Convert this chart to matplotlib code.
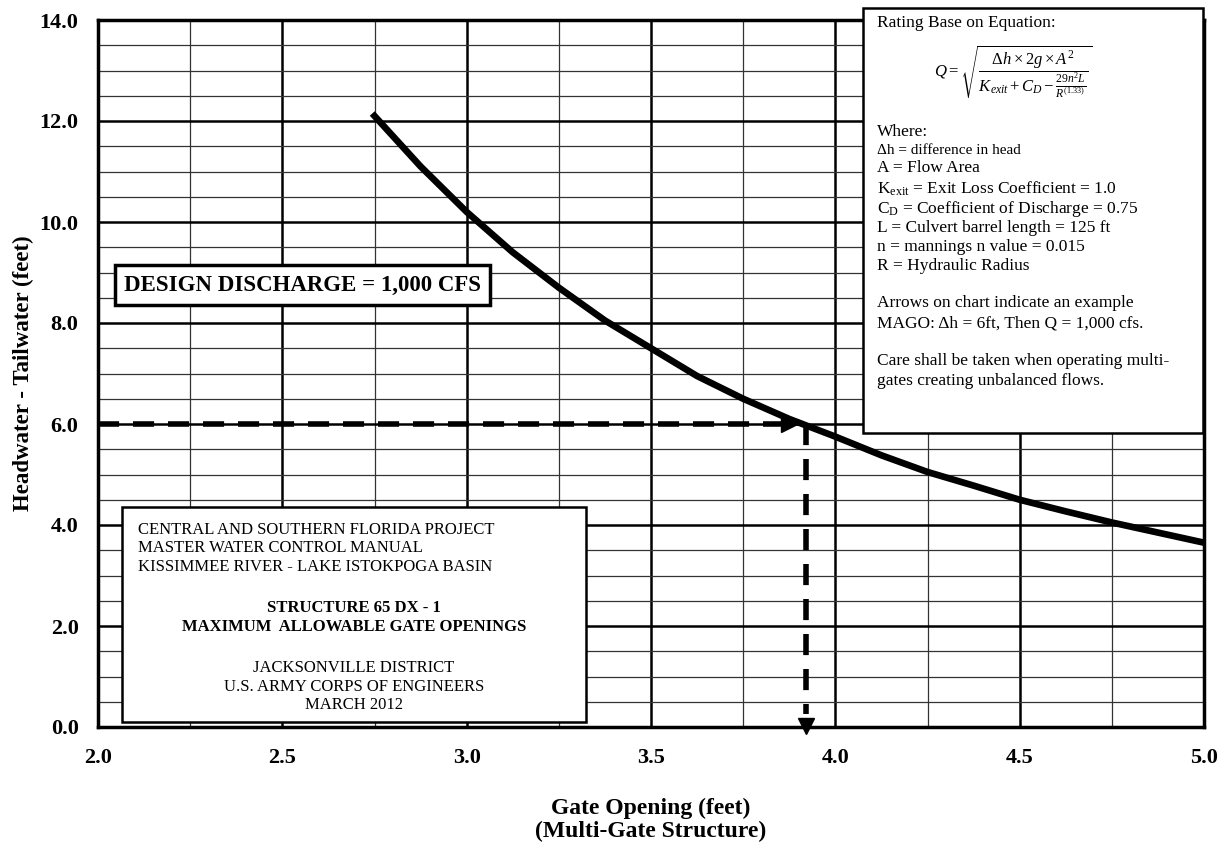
import numpy as np
import matplotlib
matplotlib.use("Agg")
import matplotlib.pyplot as plt
from matplotlib.patches import Rectangle

# rating curve: gate opening (ft) vs head difference (ft)
gate_opening = [2.75, 2.875, 3.0, 3.125, 3.25, 3.375, 3.5, 3.625, 3.75, 3.875,
	4.0, 4.125, 4.25, 4.375, 4.5, 4.625, 4.75, 4.875, 5.0]
head_diff = [12.1, 11.1, 10.2, 9.4, 8.7, 8.05, 7.5, 6.95, 6.5, 6.1,
	5.75, 5.38, 5.05, 4.78, 4.5, 4.27, 4.05, 3.85, 3.65]

# example shown by the arrows
example_head = 6.0
example_gate = 3.92

x_ticks = [2.0, 2.5, 3.0, 3.5, 4.0, 4.5, 5.0]
y_ticks = [0.0, 2.0, 4.0, 6.0, 8.0, 10.0, 12.0, 14.0]

W, H = 1231, 852

plt.rcParams['font.family'] = ['Liberation Serif', 'DejaVu Serif']
plt.rcParams['mathtext.fontset'] = 'custom'
plt.rcParams['mathtext.rm'] = 'Liberation Serif'
plt.rcParams['mathtext.it'] = 'Liberation Serif:italic'
plt.rcParams['mathtext.bf'] = 'Liberation Serif:bold'


def px(x, y):
	# pixel position (from top left) -> figure fraction
	return x / W, 1 - y / H


fig = plt.figure(figsize=(W / 100, H / 100), dpi=100)
ax = fig.add_axes([98 / W, 1 - 727 / H, (1204 - 98) / W, (727 - 20) / H])

ax.set_xlim(2.0, 5.0)
ax.set_ylim(0.0, 14.0)
ax.set_xticks(x_ticks)
ax.set_yticks(y_ticks)
ax.set_xticks(np.arange(2.0, 5.01, 0.25), minor=True)
ax.set_yticks(np.arange(0.0, 14.01, 0.5), minor=True)
ax.set_xticklabels(["%.1f" % v for v in x_ticks])
ax.set_yticklabels(["%.1f" % v for v in y_ticks])
ax.tick_params(which='both', length=0)
ax.tick_params(axis='x', pad=15, labelsize=16)
ax.tick_params(axis='y', pad=14, labelsize=16)
for lab in ax.get_xticklabels() + ax.get_yticklabels():
	lab.set_fontweight('bold')

ax.grid(which='major', color='black', lw=1.8)
ax.grid(which='minor', color='#333333', lw=0.9)
ax.set_axisbelow(True)
for sp in ax.spines.values():
	sp.set_linewidth(2.5)

ax.plot(gate_opening, head_diff, color='black', lw=4.8, zorder=3, solid_joinstyle='round')

# example arrows
dash = (0, (3.8, 2.5))
ax.plot([2.0, example_gate - 0.05], [example_head, example_head], ls=dash, lw=4, color='black', zorder=4)
ax.plot(example_gate - 0.045, example_head, marker='>', ms=11, color='black', zorder=4)
ax.plot([example_gate, example_gate], [example_head, 0.25], ls=dash, lw=4, color='black', zorder=4)
ax.plot(example_gate, 0.02, marker='v', ms=11, color='black', zorder=4, clip_on=False)

ax.set_ylabel("Headwater - Tailwater (feet)", fontsize=16.5, fontweight='bold')
ax.yaxis.set_label_coords(-0.058, 0.5)
ax.set_xlabel("Gate Opening (feet)\n(Multi-Gate Structure)", fontsize=17, fontweight='bold', linespacing=1.1)
ax.xaxis.set_label_coords(0.5, -0.1)
ax.xaxis.label.set_va('top')

# design discharge box
x, y = px(124, 285)
fig.text(x, y, "DESIGN DISCHARGE = 1,000 CFS", fontsize=16.5, fontweight='bold', ha='left', va='center',
	bbox=dict(boxstyle='square,pad=0.4', fc='white', ec='black', lw=2.5))

# equation box
x0, y0 = px(863, 433)
x1, y1 = px(1203, 8)
fig.add_artist(Rectangle((x0, y0), x1 - x0, y1 - y0, transform=fig.transFigure, fc='white', ec='black', lw=1.8))

eq_lines = [
	(23, "Rating Base on Equation:", 12.5),
	(132, "Where:", 12.5),
	(150, "\u0394h = difference in head", 11),
	(168, "A = Flow Area", 12.5),
	(189, r"K$_{\rm exit}$ = Exit Loss Coefficient = 1.0", 12.5),
	(209, r"C$_{\rm D}$ = Coefficient of Discharge = 0.75", 12.5),
	(228, "L = Culvert barrel length = 125 ft", 12.5),
	(247, "n = mannings n value = 0.015", 12.5),
	(266, "R = Hydraulic Radius", 12.5),
	(303, "Arrows on chart indicate an example", 12.5),
	(323, "MAGO: \u0394h = 6ft, Then Q = 1,000 cfs.", 12.5),
	(361, "Care shall be taken when operating multi-", 12.5),
	(381, "gates creating unbalanced flows.", 12.5),
]
for yy, s, fs in eq_lines:
	x, y = px(877, yy)
	fig.text(x, y, s, fontsize=fs, ha='left', va='center')

x, y = px(1013, 72)
fig.text(x, y, r"$Q = \sqrt{\dfrac{\Delta h \times 2g \times A^2}{K_{exit} + C_D - \frac{29n^2L}{R^{(1.33)}}}}$",
	fontsize=12, ha='center', va='center')

# title block
x0, y0 = px(122, 722)
x1, y1 = px(586, 507)
fig.add_artist(Rectangle((x0, y0), x1 - x0, y1 - y0, transform=fig.transFigure, fc='white', ec='black', lw=1.8))

left_lines = [
	(530, "CENTRAL AND SOUTHERN FLORIDA PROJECT"),
	(548, "MASTER WATER CONTROL MANUAL"),
	(567, "KISSIMMEE RIVER - LAKE ISTOKPOGA BASIN"),
]
for yy, s in left_lines:
	x, y = px(138, yy)
	fig.text(x, y, s, fontsize=12, ha='left', va='center')

center_lines = [
	(608, "STRUCTURE 65 DX - 1", 'bold'),
	(627, "MAXIMUM  ALLOWABLE GATE OPENINGS", 'bold'),
	(668, "JACKSONVILLE DISTRICT", 'normal'),
	(687, "U.S. ARMY CORPS OF ENGINEERS", 'normal'),
	(705, "MARCH 2012", 'normal'),
]
for yy, s, fw in center_lines:
	x, y = px(354, yy)
	fig.text(x, y, s, fontsize=12, fontweight=fw, ha='center', va='center')

fig.savefig("out.png", dpi=100)
